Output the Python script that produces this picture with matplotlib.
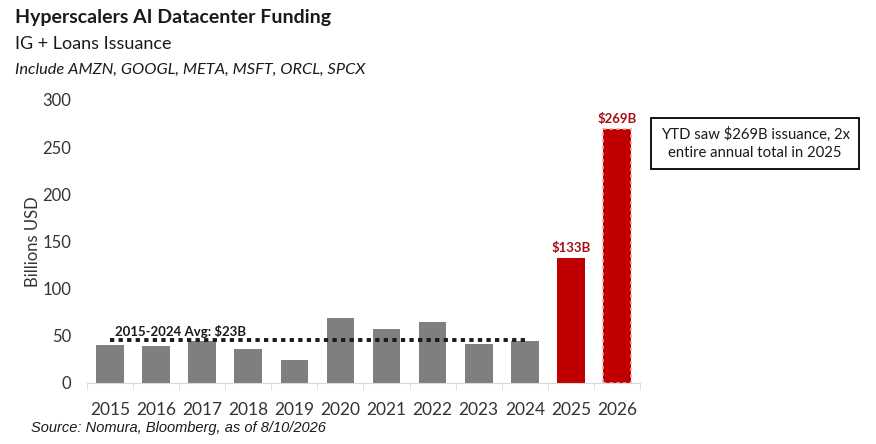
import matplotlib
matplotlib.use("Agg")
import matplotlib.pyplot as plt

years = ["2015", "2016", "2017", "2018", "2019", "2020", "2021", "2022", "2023", "2024", "2025", "2026"]
values = [40, 39, 44, 36, 24, 69, 57, 65, 41, 44, 133, 269]
highlight_labels = {10: "$133B", 11: "$269B"}
avg_value = 46
avg_label = "2015-2024 Avg: $23B"
yticks = [0, 50, 100, 150, 200, 250, 300]

plt.rcParams['font.family'] = ['Lato', 'DejaVu Sans']

fig = plt.figure(figsize=(8.76, 4.44), dpi=100)
ax = fig.add_axes([0.0993, 0.1374, 0.6313, 0.6374])

x = list(range(len(years)))
colors = ['#7f7f7f'] * 10 + ['#c00000', '#c00000']
bars = ax.bar(x, values, width=0.6, color=colors, zorder=2)
bars[11].set_edgecolor('#f4a3a3')
bars[11].set_linestyle((0, (2, 2)))
bars[11].set_linewidth(1.2)

for i, lab in highlight_labels.items():
    ax.text(x[i], values[i] + 4, lab, ha='center', va='bottom', color='#a50f15',
            fontsize=9.5, fontweight='bold')

ax.plot([x[0], x[9]], [avg_value, avg_value], color='#1a1a1a', lw=2.8,
        linestyle=(0, (1.1, 1.1)), zorder=3)
ax.text(x[0] + 0.1, avg_value + 2, avg_label, ha='left', va='bottom', fontsize=9.5,
        fontweight='bold', color='#1a1a1a', zorder=4)

ax.set_xlim(-0.5, len(years) - 0.5)
ax.set_ylim(0, 300)
ax.set_yticks(yticks)
ax.set_xticks(x)
ax.set_xticklabels(years)
ax.set_xticks([i - 0.5 for i in range(len(years) + 1)], minor=True)
ax.tick_params(axis='x', which='major', length=0, labelsize=12.5, pad=14, colors='#333333')
ax.tick_params(axis='x', which='minor', length=5, color='#d9d9d9', direction='out')
ax.tick_params(axis='y', length=0, labelsize=12, pad=11.5, colors='#333333')
for s in ['top', 'right', 'left']:
    ax.spines[s].set_visible(False)
ax.spines['bottom'].set_color('#d9d9d9')
ax.set_ylabel('Billions USD', fontsize=12, color='#333333', labelpad=1)

fig.text(0.017, 0.96, 'Hyperscalers AI Datacenter Funding', fontsize=14, fontweight='bold',
         color='#1a1a1a', va='center', ha='left')
fig.text(0.017, 0.90, 'IG + Loans Issuance', fontsize=13, color='#1a1a1a', va='center', ha='left')
fig.text(0.017, 0.843, 'Include AMZN, GOOGL, META, MSFT, ORCL, SPCX', fontsize=11.8,
         style='italic', color='#1a1a1a', va='center', ha='left')
fig.text(0.035, 0.037, 'Source: Nomura, Bloomberg, as of 8/10/2026', fontsize=10.5,
         style='italic', color='#1a1a1a', va='center', ha='left',
         family=['Liberation Sans Narrow', 'Liberation Sans', 'DejaVu Sans'])

fig.text(0.862, 0.677, 'YTD saw $269B issuance, 2x\nentire annual total in 2025', fontsize=10.7,
         ha='center', va='center', color='#1a1a1a', linespacing=1.3,
         bbox=dict(boxstyle='square,pad=0.65', facecolor='white', edgecolor='black', linewidth=1.3))

fig.savefig('out.png', dpi=100)
